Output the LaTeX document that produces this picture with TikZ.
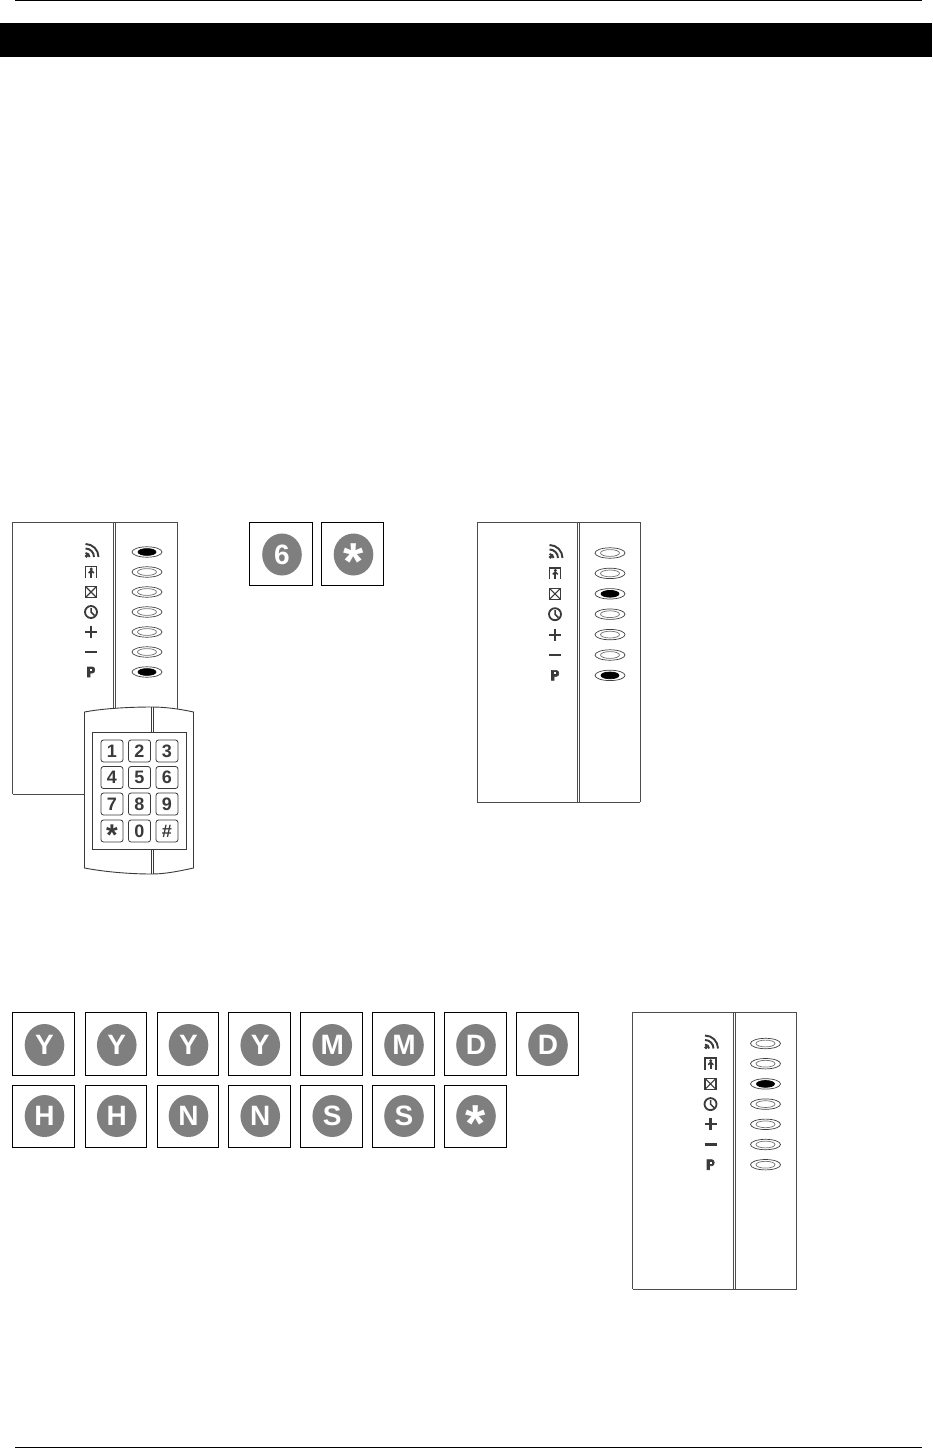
\documentclass[tikz,border=0pt]{standalone}
\usepackage{fontspec}
\setmainfont{Liberation Sans}
\newcommand{\btnfont}{\fontsize{28}{28}\selectfont\bfseries}
\newcommand{\bigstar}{\smash{\raisebox{-25pt}{\fontsize{52}{52}\selectfont\bfseries *}}}
\newcommand{\keyfont}{\fontsize{18}{18}\selectfont\bfseries}
\definecolor{ink}{HTML}{3A3A3A}
\definecolor{btngrey}{HTML}{7F7F7F}
\tikzset{
  thinline/.style={draw=ink,line width=0.9pt},
  panelline/.style={draw=black!70,line width=1pt},
  ledouter/.style={draw=black!75,line width=0.7pt},
  ledinner/.style={draw=black!55,line width=0.7pt},
  ledlit/.style={draw=black,fill=black,line width=0.7pt},
  icon/.style={draw=ink,line width=1.5pt},
  iconsolid/.style={draw=ink,fill=ink,line width=0.6pt},
  btnsquare/.style={draw=black,line width=1pt,fill=white},
  btndisc/.style={fill=btngrey,draw=none},
  btntext/.style={text=white,inner sep=0pt,font=\btnfont},
  keybox/.style={draw=ink,line width=0.8pt,rounded corners=2.5pt,minimum width=22pt,minimum height=22pt,inner sep=0pt,font=\keyfont,text=ink,fill=white}
}
% left, top, right, bottom, disc centre y, name, text
\newcommand{\kbtn}[7]{%
  \path[btnsquare] (#1,#2) rectangle (#3,#4);
  \path[btndisc] ({(#1+#3)/2+1},#5) ellipse (19.8pt and 21pt);
  \node[btntext] (#6) at ({(#1+#3)/2+1},#5) {#7};
}
% left, top, bottom, width, icon offset, led offset, first row, step, lit-list
\newcommand{\ledpanel}[9]{%
  \draw[panelline] (#1,#3) -- (#1,#2) -- ({#1+#4},#2) -- ({#1+#4},#3);
  \draw[panelline] (#1,#3) -- ({#1+#4},#3);
  \draw[panelline] ({#1+100.5},#2) -- ({#1+100.5},#3);
  \draw[panelline] ({#1+102.5},#2) -- ({#1+102.5},#3);
  \begin{scope}[shift={({#1+#5},#7)}]
    % wireless
    \draw[icon,line width=1.9pt] (-1.5,5) arc[start angle=0,end angle=90,radius=4pt];
    \draw[icon,line width=1.9pt] (3,5) arc[start angle=0,end angle=90,radius=8.5pt];
    \draw[icon,line width=1.9pt] (7.5,5) arc[start angle=0,end angle=90,radius=13pt];
    \fill[ink] (-4.5,4) circle (1.8pt);
    % door
    \begin{scope}[shift={(0,#8)}]
      \draw[icon] (-5.5,6) -- (-5.5,-5.5) -- (5.5,-5.5) -- (5.5,6);
      \fill[ink] (0.3,-3) circle (1.6pt);
      \draw[icon,line width=2pt] (0.3,-1.5) -- (0.3,5.5);
      \draw[icon] (-2.3,1) -- (0.3,-1.5) -- (2.8,1);
    \end{scope}
    % box with cross
    \begin{scope}[shift={(0,2*#8)}]
      \draw[icon] (-5.5,-5.5) rectangle (5.5,5.5);
      \draw[icon,line width=1.1pt] (-5.5,-5.5) -- (5.5,5.5) (-5.5,5.5) -- (5.5,-5.5);
    \end{scope}
    % clock
    \begin{scope}[shift={(0,3*#8)}]
      \draw[icon,line width=1.8pt] (0,0) circle (6pt);
      \draw[icon] (0,-4) -- (0,0) -- (3.5,3.5);
    \end{scope}
    % plus
    \begin{scope}[shift={(0,4*#8)}]
      \draw[icon,line width=2.2pt] (-6,0) -- (6,0);
      \draw[icon,line width=2.2pt] (0,-6) -- (0,6);
    \end{scope}
    % minus
    \begin{scope}[shift={(0,5*#8)}]
      \draw[icon,line width=2.2pt] (-6,0) -- (6,0);
    \end{scope}
    % P
    \begin{scope}[shift={(0,6*#8)}]
      \path[iconsolid] (-3.5,5) -- (-3.5,-5) -- (1.5,-5) .. controls (4.5,-5) and (4.5,1) .. (1.5,1) -- (-1,1) -- (-1,5) -- cycle;
      \fill[white] (-1,-3) rectangle (1,-1);
    \end{scope}
  \end{scope}
  \foreach \row/\lit in {#9} {
    \begin{scope}[shift={({#1+#6},{#7+\row*#8})}]
      \draw[ledouter] (0,0) ellipse (15pt and 5.2pt);
      \ifnum\lit=1
        \draw[ledlit] (0,0) ellipse (9pt and 3.4pt);
      \else
        \draw[ledinner] (0,0) ellipse (9.5pt and 3.4pt);
      \fi
    \end{scope}
  }
}
\begin{document}
\begin{tikzpicture}[x=1pt,y=-1pt]
\useasboundingbox (0,0) rectangle (932,1450);
\fill[white] (0,0) rectangle (932,1450);
\draw[black,line width=1pt] (15,0.6) -- (922,0.6);
\fill[black] (0,23) rectangle (932,57);
\draw[black,line width=1pt] (15,1447) -- (922,1447);
\ledpanel{12.5}{522.5}{794}{165}{78.5}{134.5}{552}{20}{0/1,1/0,2/0,3/0,4/0,5/0,6/1}
\ledpanel{477}{522.5}{802}{163}{78}{133}{553}{20.4}{0/0,1/0,2/1,3/0,4/0,5/0,6/1}
\ledpanel{632.5}{1012.5}{1289}{164}{78}{133}{1043.5}{20.2}{0/0,1/0,2/1,3/0,4/0,5/0,6/0}
\path[fill=white,draw=ink,line width=0.9pt] (84.5,712) .. controls (100,709) and (125,707) .. (152,707)
  .. controls (165,707) and (180,709) .. (193.5,712) -- (193.5,868)
  .. controls (180,871) and (165,874) .. (152,874)
  .. controls (125,874) and (100,871) .. (84.5,868) -- cycle;
\draw[thinline] (151.5,707) -- (151.5,732) (153.5,707) -- (153.5,732);
\draw[thinline] (151.5,849) -- (151.5,874) (153.5,849) -- (153.5,874);
\draw[thinline] (92,732) rectangle (186,849);
\node[keybox] (k1) at (112,751) {1};
\node[keybox] (k2) at (139.5,751) {2};
\node[keybox] (k3) at (167,751) {3};
\node[keybox] (k4) at (112,777.5) {4};
\node[keybox] (k5) at (139.5,777.5) {5};
\node[keybox] (k6) at (167,777.5) {6};
\node[keybox] (k7) at (112,804) {7};
\node[keybox] (k8) at (139.5,804) {8};
\node[keybox] (k9) at (167,804) {9};
\node[keybox] (kstar) at (112,831) {\smash{\raisebox{-14pt}{\fontsize{30}{30}\selectfont *}}};
\node[keybox] (k0) at (139.5,831) {0};
\node[keybox] (khash) at (167,831) {\#};
\kbtn{249.5}{522.5}{312.5}{585}{554.5}{b6}{6}
\kbtn{321.5}{522.5}{383.5}{585}{554.5}{bstar}{\bigstar}
\kbtn{12.5}{1012.5}{74.5}{1075}{1045}{r1}{Y}
\kbtn{85}{1012.5}{146.5}{1075}{1045}{r2}{Y}
\kbtn{157}{1012.5}{218}{1075}{1045}{r3}{Y}
\kbtn{228.5}{1012.5}{290}{1075}{1045}{r4}{Y}
\kbtn{300.5}{1012.5}{362}{1075}{1045}{r5}{M}
\kbtn{372}{1012.5}{434}{1075}{1045}{r6}{M}
\kbtn{444}{1012.5}{506}{1075}{1045}{r7}{D}
\kbtn{516}{1012.5}{578}{1075}{1045}{r8}{D}
\kbtn{12.5}{1085.5}{74.5}{1147}{1116}{s1}{H}
\kbtn{85}{1085.5}{146.5}{1147}{1116}{s2}{H}
\kbtn{157}{1085.5}{218}{1147}{1116}{s3}{N}
\kbtn{228.5}{1085.5}{290}{1147}{1116}{s4}{N}
\kbtn{300.5}{1085.5}{362}{1147}{1116}{s5}{S}
\kbtn{372}{1085.5}{434}{1147}{1116}{s6}{S}
\kbtn{444}{1085.5}{506}{1147}{1116}{s7}{\bigstar}
\end{tikzpicture}
\end{document}
